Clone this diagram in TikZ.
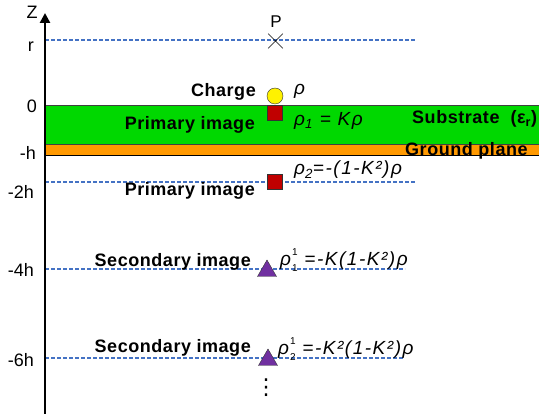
\documentclass[tikz,border=0pt]{standalone}
\usepackage{fontspec}
\setmainfont{Liberation Sans}
\newfontfamily\lblfont{Liberation Sans}[LetterSpace=3]
\newfontfamily\eqfont{Liberation Sans}[LetterSpace=8]
\newfontfamily\symfont{DejaVu Sans}
\usetikzlibrary{positioning, shapes.geometric, shapes.misc, arrows.meta}

\definecolor{levelblue}{RGB}{68,114,196}
\definecolor{subgreen}{RGB}{0,216,0}
\definecolor{gndorange}{RGB}{255,153,0}
\definecolor{imgred}{RGB}{192,0,0}
\definecolor{imgpurple}{RGB}{112,48,160}

% stacked indices for the secondary images
\newcommand{\supsub}[2]{\kern1pt\rlap{\raisebox{9.5pt}{\upshape\fontsize{10}{11}\selectfont #1}}\raisebox{-6pt}{\upshape\fontsize{10}{11}\selectfont #2}}

\begin{document}
\begin{tikzpicture}[
    x=1pt, y=-1pt,
    level/.style={levelblue, dash pattern=on 4pt off 2pt, line width=2pt},
    tick/.style={anchor=east, inner sep=0pt, font=\fontsize{18}{20}\selectfont},
    lbl/.style={anchor=east, inner sep=0pt, font=\lblfont\bfseries\fontsize{18}{20}\selectfont},
    eq/.style={anchor=west, inner sep=0pt, font=\eqfont\itshape\fontsize{19}{21}\selectfont},
    charge/.style={circle, draw=black!80, fill=yellow, minimum size=16pt, inner sep=0pt},
    primary/.style={rectangle, draw=black!80, fill=imgred, minimum size=15pt, inner sep=0pt},
    secondary/.style={regular polygon, regular polygon sides=3, draw=black!80, fill=imgpurple, minimum size=22pt, inner sep=0pt}
]
\useasboundingbox (0,0) rectangle (539,414);

% Layers
\fill[subgreen] (45,105) rectangle (539,144);
\fill[gndorange] (45,144) rectangle (539,155);
\draw[black!75, line width=0.8pt] (45,105) -- (539,105);
\draw[black!75, line width=0.8pt] (45,144) -- (539,144);
\draw[line width=1.8pt] (45,155.5) -- (539,155.5);

% Levels
\coordinate (rL) at (45,40);   \coordinate (rR) at (415,40);
\coordinate (h2L) at (45,182); \coordinate (h2R) at (415,182);
\coordinate (h4L) at (45,269); \coordinate (h4R) at (405,269);
\coordinate (h6L) at (45,358); \coordinate (h6R) at (404,358);
\draw[level] (rL) -- (rR);
\draw[level] (h2L) -- (h2R);
\draw[level] (h4L) -- (h4R);
\draw[level] (h6L) -- (h6R);

% Z axis
\coordinate (zbot) at (45,414);
\coordinate (ztop) at (45,13);
\draw[line width=2.5pt, -{Triangle[length=10pt, width=10pt]}] (zbot) -- (ztop);
\node[inner sep=0pt, font=\fontsize{18}{20}\selectfont] (zlab) at (32,12) {Z};

% Ticks
\node[tick] (tr) at (34,47) {r};
\node[tick] (t0) at (37,106) {0};
\node[tick] (th) at (36,153) {-h};
\node[tick] (t2h) at (34,192) {-2h};
\node[tick] (t4h) at (34,270) {-4h};
\node[tick] (t6h) at (34,360) {-6h};

% Observation point
\node[cross out, draw, line width=0.6pt, minimum size=14pt, inner sep=0pt] (P) at (275.5,41) {};
\node[inner sep=0pt, font=\fontsize{17}{19}\selectfont] (Plab) at (276,22) {P};

% Charge and images
\node[charge] (q) at (275,96) {};
\node[primary] (img1) at (275,113) {};
\node[primary] (img2) at (275,182) {};
\node[secondary] (sec1) at (267,271) {};
\node[secondary] (sec2) at (268,360) {};
\node[inner sep=0pt, font=\symfont\fontsize{22}{24}\selectfont] (more) at (266,388) {⋮};

% Labels
\node[lbl] (qlab) at (256,92) {Charge};
\node[lbl] (img1lab) at (255,125) {Primary image};
\node[lbl] (img2lab) at (255,191) {Primary image};
\node[lbl] (sec1lab) at (251,262) {Secondary image};
\node[lbl] (sec2lab) at (251,348) {Secondary image};
\node[lbl, anchor=west] (sublab) at (412,119) {Substrate\ \ (ε\textsubscript{r})};
\node[lbl, anchor=west] (gndlab) at (405,151) {Ground plane};

% Charge values
\node[eq] (qval) at (294,91) {ρ};
\node[eq] (img1val) at (294,121) {ρ\textsubscript{1} = Kρ};
\node[eq] (img2val) at (294,170) {ρ\textsubscript{2}=-(1-K²)ρ};
\node[eq] (sec1val) at (280,260) {ρ\supsub{1}{1} =-K(1-K²)ρ};
\node[eq] (sec2val) at (278,349) {ρ\supsub{1}{2} =-K²(1-K²)ρ};

\end{tikzpicture}
\end{document}
